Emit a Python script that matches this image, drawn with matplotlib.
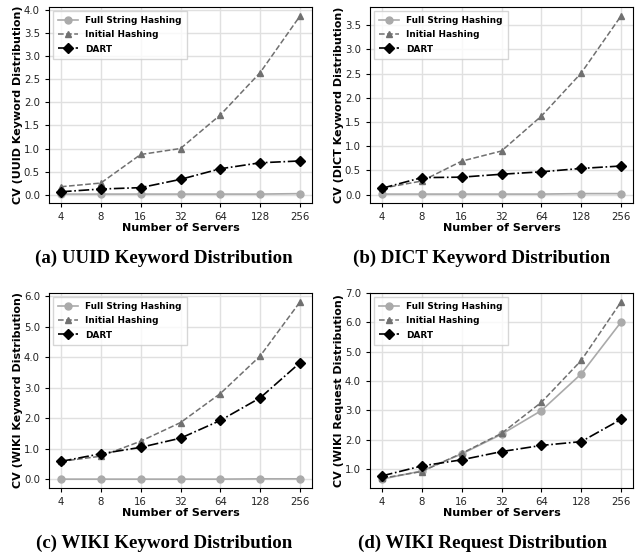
import matplotlib
matplotlib.use("Agg")
import matplotlib.pyplot as plt
from matplotlib.ticker import MultipleLocator, FormatStrFormatter

# x categories
servers = ["4", "8", "16", "32", "64", "128", "256"]
series_names = ["Full String Hashing", "Initial Hashing", "DART"]

# (a) UUID keyword distribution
uuid_full = [0.01, 0.01, 0.01, 0.01, 0.01, 0.01, 0.02]
uuid_init = [0.17, 0.25, 0.87, 1.00, 1.73, 2.65, 3.88]
uuid_dart = [0.06, 0.12, 0.15, 0.33, 0.56, 0.69, 0.73]

# (b) DICT keyword distribution
dict_full = [0.01, 0.01, 0.01, 0.01, 0.01, 0.02, 0.02]
dict_init = [0.13, 0.28, 0.69, 0.90, 1.62, 2.51, 3.69]
dict_dart = [0.13, 0.35, 0.36, 0.42, 0.47, 0.54, 0.59]

# (c) WIKI keyword distribution
wiki_full = [0.01, 0.01, 0.01, 0.01, 0.01, 0.02, 0.02]
wiki_init = [0.59, 0.76, 1.25, 1.86, 2.81, 4.04, 5.81]
wiki_dart = [0.59, 0.84, 1.05, 1.35, 1.93, 2.67, 3.82]

# (d) WIKI request distribution
req_full = [0.65, 0.93, 1.51, 2.18, 2.99, 4.24, 6.01]
req_init = [0.68, 0.91, 1.53, 2.21, 3.27, 4.70, 6.70]
req_dart = [0.76, 1.10, 1.31, 1.59, 1.80, 1.93, 2.69]

panels = [
    (uuid_full, uuid_init, uuid_dart, "CV (UUID Keyword Distribution)", "(a) UUID Keyword Distribution"),
    (dict_full, dict_init, dict_dart, "CV (DICT Keyword Distribution)", "(b) DICT Keyword Distribution"),
    (wiki_full, wiki_init, wiki_dart, "CV (WIKI Keyword Distribution)", "(c) WIKI Keyword Distribution"),
    (req_full, req_init, req_dart, "CV (WIKI Request Distribution)", "(d) WIKI Request Distribution"),
]

W, H = 637, 555
fig = plt.figure(figsize=(W / 100, H / 100), dpi=100)

# axes boxes in pixels: left, top, right, bottom
boxes = [(49, 7, 312, 203), (370, 7, 633, 203), (49, 293, 312, 488), (370, 293, 633, 488)]
captions_xy = [(164, 258), (482, 258), (164, 543), (482, 543)]

styles = [
    dict(color="#aaaaaa", linestyle="-", marker="o", markersize=5, linewidth=1.2),
    dict(color="#707070", linestyle="--", marker="^", markersize=5, linewidth=1.1),
    dict(color="black", linestyle="-.", marker="D", markersize=5, linewidth=1.2),
]

x = list(range(len(servers)))
for i, (full, init, dart, ylab, cap) in enumerate(panels):
    l, t, r, b = boxes[i]
    ax = fig.add_axes([l / W, 1 - b / H, (r - l) / W, (b - t) / H])
    for vals, name, st in zip([full, init, dart], series_names, styles):
        ax.plot(x, vals, label=name, **st)
    ax.set_xticks(x)
    ax.set_xticklabels(servers)
    ax.grid(True, color="#e0e0e0", linewidth=1.0)
    ax.set_axisbelow(True)
    ax.tick_params(labelsize=7.3, length=3, labelcolor="#222222")
    ax.set_xlabel("Number of Servers", fontsize=8, fontweight="bold", labelpad=1)
    ax.set_ylabel(ylab, fontsize=8, fontweight="bold", labelpad=0.5)
    if i >= 2:
        ax.yaxis.set_major_locator(MultipleLocator(1.0))
        ax.yaxis.set_major_formatter(FormatStrFormatter("%.1f"))
    else:
        ax.yaxis.set_major_locator(MultipleLocator(0.5))
    ax.legend(loc="upper left", prop={"weight": "bold", "size": 6.4}, fancybox=False,
              handlelength=2.3, handletextpad=0.8, borderpad=0.6, labelspacing=0.6,
              borderaxespad=0.4)
    cx, cy = captions_xy[i]
    fig.text(cx / W, 1 - cy / H, cap, ha="center", va="center", fontsize=13.6,
             fontweight="bold", family="Liberation Serif")

fig.savefig("out.png", dpi=100)
